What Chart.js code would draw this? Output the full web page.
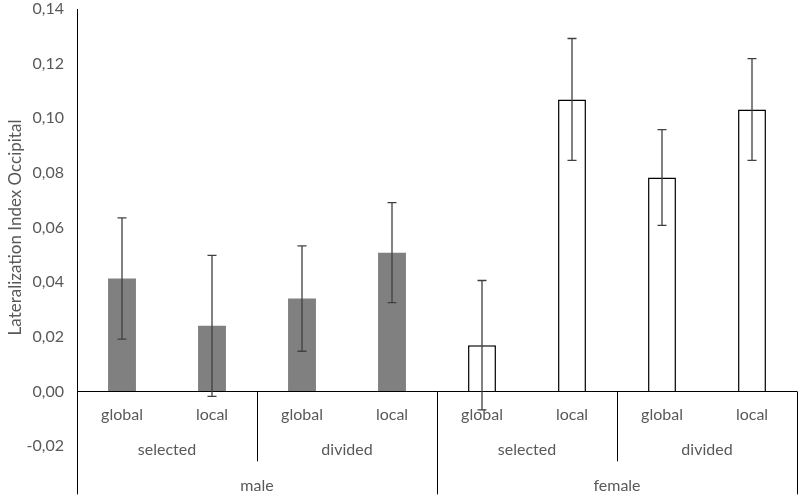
<!DOCTYPE html>
<html>
<head>
<meta charset="utf-8">
<script src="https://cdn.jsdelivr.net/npm/chart.js@4/dist/chart.umd.min.js"></script>
<style>
  html, body { margin: 0; padding: 0; background: #fff; }
  #wrap { width: 800px; height: 497px; }
</style>
</head>
<body>
<div id="wrap"><canvas id="barDiagram"></canvas></div>
<script>
// data
const categories = ['global', 'local', 'global', 'local', 'global', 'local', 'global', 'local'];
const conditions = ['selected', 'divided', 'selected', 'divided'];
const groups = ['male', 'female'];
const means = [0.0413, 0.0240, 0.0340, 0.0508, 0.0169, 0.1069, 0.0783, 0.1032];
const errors = [0.0222, 0.0258, 0.0193, 0.0183, 0.0237, 0.0223, 0.0175, 0.0186];
const yMin = -0.02, yMax = 0.14, yStep = 0.02;
const yTitle = 'Lateralization Index Occipital';

const FONT = 'Lato';
const TEXT = '#595959';
const perGroup = categories.length / groups.length;
const perCond = categories.length / conditions.length;

const barFill = categories.map((c, i) => i < perGroup ? '#808080' : '#ffffff');
const barBorder = categories.map((c, i) => i < perGroup ? '#808080' : '#000000');
const barBorderW = categories.map((c, i) => i < perGroup ? 0 : 1.5);

const errorBars = {
  id: 'errorBars',
  afterDatasetsDraw(chart) {
    const ctx = chart.ctx;
    const y = chart.scales.y;
    const meta = chart.getDatasetMeta(0);
    ctx.save();
    ctx.strokeStyle = '#404040';
    ctx.lineWidth = 1.3;
    meta.data.forEach((bar, i) => {
      const top = y.getPixelForValue(means[i] + errors[i]);
      const bot = y.getPixelForValue(means[i] - errors[i]);
      ctx.beginPath();
      ctx.moveTo(bar.x, top); ctx.lineTo(bar.x, bot);
      ctx.moveTo(bar.x - 4.5, top); ctx.lineTo(bar.x + 4.5, top);
      ctx.moveTo(bar.x - 4.5, bot); ctx.lineTo(bar.x + 4.5, bot);
      ctx.stroke();
    });
    ctx.restore();
  }
};

// three-level category axis drawn under the zero line
const groupAxis = {
  id: 'groupAxis',
  afterDraw(chart) {
    const ctx = chart.ctx;
    const area = chart.chartArea;
    const y0 = chart.scales.y.getPixelForValue(0);
    const w = (area.right - area.left) / categories.length;
    ctx.save();
    ctx.strokeStyle = '#000000';
    ctx.lineWidth = 1;
    ctx.beginPath();
    for (let i = 0; i <= categories.length; i++) {
      const x = Math.round(area.left + i * w) + 0.5;
      if (i % perGroup === 0) {
        ctx.moveTo(x, y0); ctx.lineTo(x, y0 + 103);
      } else if (i % perCond === 0) {
        ctx.moveTo(x, y0); ctx.lineTo(x, y0 + 70);
      }
    }
    ctx.stroke();
    ctx.fillStyle = TEXT;
    ctx.font = '16px ' + FONT;
    ctx.textAlign = 'center';
    ctx.textBaseline = 'middle';
    categories.forEach((c, i) => ctx.fillText(c, area.left + (i + 0.5) * w, y0 + 23));
    conditions.forEach((c, i) => ctx.fillText(c, area.left + (i + 0.5) * w * perCond, y0 + 58));
    groups.forEach((c, i) => ctx.fillText(c, area.left + (i + 0.5) * w * perGroup, y0 + 94));
    ctx.restore();
  }
};

const configBar = {
  type: 'bar',
  data: {
    labels: categories,
    datasets: [{
      data: means,
      backgroundColor: barFill,
      borderColor: barBorder,
      borderWidth: barBorderW,
      categoryPercentage: 1,
      barPercentage: 0.31
    }]
  },
  options: {
    responsive: true,
    maintainAspectRatio: false,
    animation: false,
    layout: { padding: { top: 9, right: 3, bottom: 51, left: 0 } },
    plugins: { legend: { display: false }, tooltip: { enabled: false } },
    scales: {
      x: { display: false },
      y: {
        min: yMin,
        max: yMax,
        afterFit(scale) {
          scale.width = 77;
          scale.paddingTop = 0;
          scale.paddingBottom = 0;
        },
        ticks: {
          stepSize: yStep,
          padding: 13,
          color: TEXT,
          font: { family: FONT, size: 16 },
          callback: v => v.toFixed(2).replace('.', ',')
        },
        grid: {
          drawTicks: false,
          color: c => Math.abs(c.tick.value) < 1e-9 ? '#000000' : 'rgba(0,0,0,0)',
          lineWidth: 1
        },
        border: { display: true, color: '#000000', width: 1 },
        title: {
          display: true,
          text: yTitle,
          color: TEXT,
          font: { family: FONT, size: 17, lineHeight: 1.1 },
          padding: { top: 6, bottom: 0 }
        }
      }
    }
  },
  plugins: [errorBars, groupAxis]
};

const barDiagram = new Chart(document.getElementById('barDiagram'), configBar);
</script>
</body>
</html>
